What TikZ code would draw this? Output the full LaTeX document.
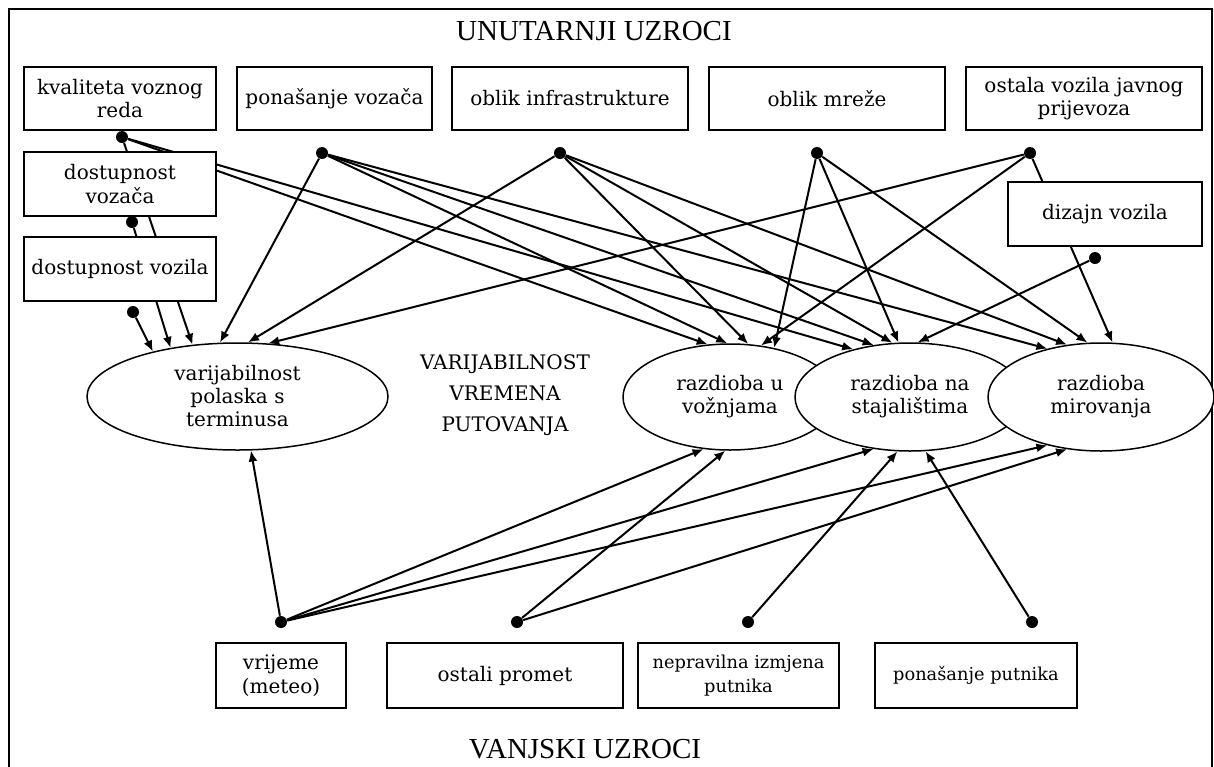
\documentclass[tikz,border=0pt]{standalone}
\usepackage{fontspec}
\setmainfont{DejaVu Serif}
\newfontfamily\titlefont{Liberation Serif}
\usetikzlibrary{shapes.geometric, arrows.meta, backgrounds}

\tikzset{
    box/.style={draw, line width=0.9pt, fill=white, align=center, inner sep=0pt,
        font=\fontsize{10}{11.75}\selectfont},
    smallbox/.style={box, font=\fontsize{8.9}{11.75}\selectfont},
    oval/.style={ellipse, draw, line width=0.75pt, fill=white, align=center, inner sep=0pt,
        font=\fontsize{10}{11.5}\selectfont},
    dot/.style={circle, fill=black, inner sep=0pt, minimum size=6pt},
    arr/.style={line width=1pt, -{Latex[length=5.5pt,width=4.5pt]}},
    title/.style={font=\titlefont\fontsize{14.5}{17}\selectfont}
}

\begin{document}
\begin{tikzpicture}[x=0.5pt, y=-0.5pt]
        \useasboundingbox (0,0) rectangle (1214,766);
        \draw[line width=1pt] (9,800) -- (9,9) -- (1212,9) -- (1212,800);

        \node[title] (inner) at (594,31) {UNUTARNJI UZROCI};
        \node[title] (outer) at (585,749) {VANJSKI UZROCI};

        \node[box, minimum width=96pt, minimum height=31.5pt] (kv) at (120,98.5) {kvaliteta voznog\\reda};
        \node[box, minimum width=97.5pt, minimum height=31.5pt] (pv) at (334.5,98.5) {ponašanje vozača};
        \node[box, minimum width=118pt, minimum height=31.5pt] (oi) at (570,98.5) {oblik infrastrukture};
        \node[box, minimum width=118pt, minimum height=31.5pt] (om) at (827,98.5) {oblik mreže};
        \node[box, minimum width=118pt, minimum height=31.5pt] (ov) at (1084,98.5) {ostala vozila javnog\\prijevoza};
        \node[box, minimum width=96pt, minimum height=32pt] (dv) at (120,184) {dostupnost\\vozača};
        \node[box, minimum width=96pt, minimum height=32pt] (dvl) at (120,269) {dostupnost vozila};
        \node[box, minimum width=97pt, minimum height=32pt] (dz) at (1105,214) {dizajn vozila};

        \node[box, minimum width=65pt, minimum height=32.5pt] (vr) at (281,675.5) {vrijeme\\(meteo)};
        \node[box, minimum width=118pt, minimum height=32.5pt] (op) at (505,675.5) {ostali promet};
        \node[smallbox, minimum width=100.5pt, minimum height=32.5pt] (np) at (738.5,675.5) {nepravilna izmjena\\putnika};
        \node[smallbox, minimum width=101pt, minimum height=32.5pt] (pp) at (976,675.5) {ponašanje putnika};

        \node[oval, minimum width=150.5pt, minimum height=53.5pt] (pol) at (237.5,396.5) {varijabilnost\\polaska s\\terminusa};
        \node[oval, minimum width=107pt, minimum height=53pt] (vz) at (730,397) {razdioba u\\vožnjama};
        \node[oval, minimum width=115pt, minimum height=54pt] (st) at (910,397) {razdioba na\\stajalištima};
        \node[oval, minimum width=113pt, minimum height=54pt] (mir) at (1101,397) {razdioba\\mirovanja};

        \node[align=center, font=\fontsize{10}{15.5}\selectfont] (vvp) at (505,395) {VARIJABILNOST\\VREMENA\\PUTOVANJA};

        \node[dot] (kvd) at (122,137) {};
        \node[dot] (pvd) at (322,153) {};
        \node[dot] (oid) at (560,153) {};
        \node[dot] (omd) at (817,153) {};
        \node[dot] (ovd) at (1030,153) {};
        \node[dot] (dvd) at (132,222) {};
        \node[dot] (dvld) at (133,312) {};
        \node[dot] (dzd) at (1095,258) {};
        \node[dot] (vrd) at (281,622) {};
        \node[dot] (opd) at (517,622) {};
        \node[dot] (npd) at (748,622) {};
        \node[dot] (ppd) at (1032,622) {};

        \begin{scope}[on background layer]
        \draw[arr] (kvd) -- (pol.131.7);
        \draw[arr] (kvd) -- (vz.113.9);
        \draw[arr] (kvd) -- (st.140.6);
        \draw[arr] (dvd) -- (pol.144.7);
        \draw[arr] (dvld) -- (pol.152.8);

        \draw[arr] (pvd) -- (pol.108.2);
        \draw[arr] (pvd) -- (vz.93.2);
        \draw[arr] (pvd) -- (st.125.9);
        \draw[arr] (pvd) -- (mir.138.7);

        \draw[arr] (oid) -- (pol.79.9);
        \draw[arr] (oid) -- (vz.71);
        \draw[arr] (oid) -- (st.108.7);
        \draw[arr] (oid) -- (mir.123.4);

        \draw[arr] (omd) -- (vz.48.4);
        \draw[arr] (omd) -- (st.102.6);
        \draw[arr] (omd) -- (mir.104.6);

        \draw[arr] (ovd) -- (pol.60.7);
        \draw[arr] (ovd) -- (vz.59.5);
        \draw[arr] (ovd) -- (mir.78.4);
        \draw[arr] (dzd) -- (st.82.6);

        \draw[arr] (vrd) -- (pol.-76.8);
        \draw[arr] (vrd) -- (vz.-117.8);
        \draw[arr] (vrd) -- (st.-125.9);
        \draw[arr] (vrd) -- (mir.-138);
        \draw[arr] (opd) -- (vz.-95.4);
        \draw[arr] (opd) -- (mir.-123.4);
        \draw[arr] (npd) -- (st.-103.5);
        \draw[arr] (ppd) -- (st.-74.3);
        \end{scope}
    \end{tikzpicture}
\end{document}
